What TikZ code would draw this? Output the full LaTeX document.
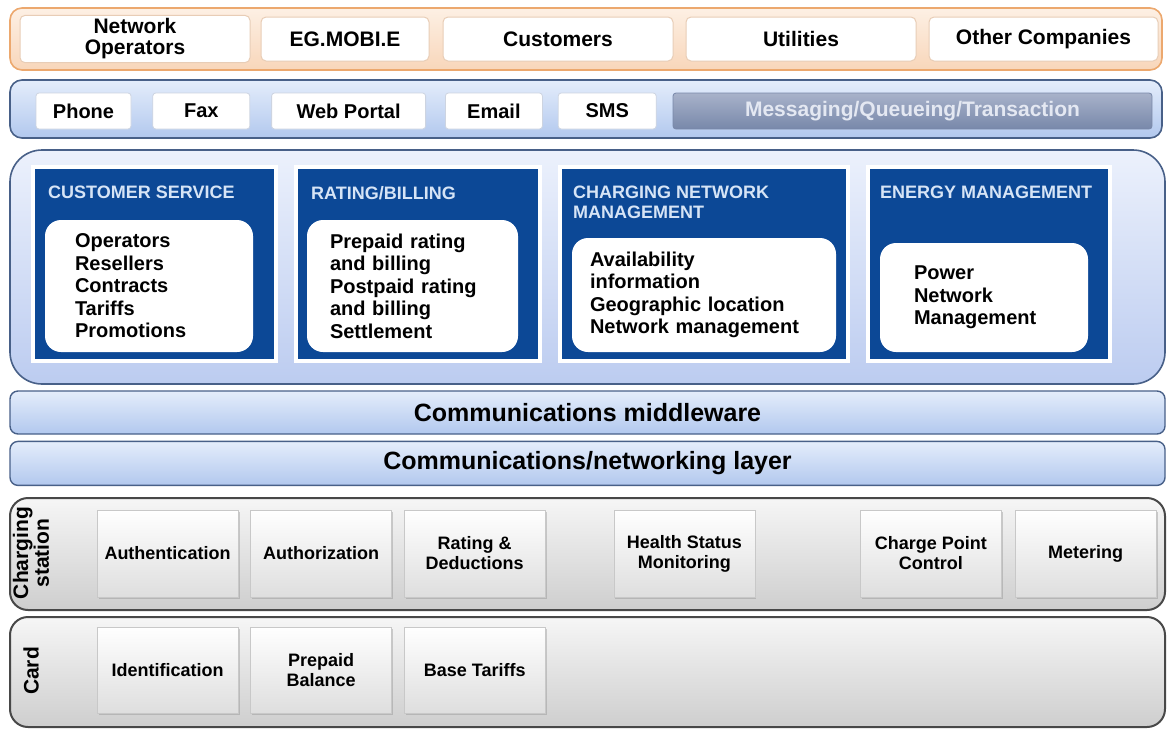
\documentclass[tikz,border=0pt]{standalone}
\usepackage{fontspec}
\setmainfont{Liberation Sans}
\usepackage{tikz}
\usetikzlibrary{positioning,shadows}
\definecolor{peachtop}{RGB}{253,240,228}
\definecolor{peachbottom}{RGB}{248,214,186}
\definecolor{peachedge}{RGB}{236,168,110}
\definecolor{tabedge}{RGB}{232,205,182}
\definecolor{bluetop}{RGB}{228,237,251}
\definecolor{bluebottom}{RGB}{178,200,238}
\definecolor{blueedge}{RGB}{72,96,136}
\definecolor{chanedge}{RGB}{205,212,225}
\definecolor{msgtop}{RGB}{168,178,202}
\definecolor{msgbottom}{RGB}{120,136,170}
\definecolor{msgtext}{RGB}{228,232,242}
\definecolor{midtop}{RGB}{236,241,252}
\definecolor{midbottom}{RGB}{188,204,240}
\definecolor{panelblue}{RGB}{12,72,150}
\definecolor{titleblue}{RGB}{214,228,246}
\definecolor{graytop}{RGB}{246,246,246}
\definecolor{graybottom}{RGB}{206,206,206}
\definecolor{grayedge}{RGB}{72,72,72}
\definecolor{unitedge}{RGB}{200,200,200}
\definecolor{unitbottom}{RGB}{222,222,222}
\tikzset{
  layer/.style={rectangle,rounded corners=12pt,line width=1.6pt,minimum width=1152pt},
  tabbox/.style={rectangle,rounded corners=5pt,draw=tabedge,fill=white,line width=1pt,align=center,minimum height=44pt,font=\bfseries\fontsize{21}{21}\selectfont},
  chanbox/.style={rectangle,rounded corners=3pt,draw=chanedge,fill=white,line width=0.8pt,minimum height=36pt,font=\bfseries\fontsize{20}{20}\selectfont},
  panel/.style={rectangle,draw=white,line width=4pt,fill=panelblue,minimum height=194pt},
  paneltitle/.style={inner sep=0pt,align=left,text=titleblue,font=\bfseries\fontsize{18}{20}\selectfont},
  listbox/.style={rectangle,rounded corners=16pt,fill=white,align=left,font=\bfseries\fontsize{20}{22.5}\selectfont},
  barbox/.style={rectangle,rounded corners=8pt,draw=blueedge,line width=1.4pt,top color=bluetop,bottom color=bluebottom,minimum width=1155pt,font=\bfseries\fontsize{25}{26}\selectfont},
  grayband/.style={rectangle,rounded corners=18pt,draw=grayedge,line width=2pt,top color=graytop,bottom color=graybottom,minimum width=1155pt},
  unitbox/.style={rectangle,draw=unitedge,line width=0.6pt,top color=white,bottom color=unitbottom,minimum width=141pt,align=center,drop shadow={shadow xshift=1.5pt,shadow yshift=-2pt,opacity=0.35},font=\bfseries\fontsize{18}{20}\selectfont},
  sidelabel/.style={rotate=90,align=center,font=\bfseries\fontsize{21}{17}\selectfont}
}

\begin{document}
\begin{tikzpicture}[x=1pt,y=-1pt]
  \useasboundingbox (0,0) rectangle (1169,729);
  % stakeholders
  \node[layer,draw=peachedge,top color=peachtop,bottom color=peachbottom,minimum height=62pt] (actors) at (586,39) {};
  \node[tabbox,minimum width=230pt] (netop) at (135,39) {Network\\Operators};
  \node[tabbox,minimum width=168pt,right=10pt of netop] (egmobie) {EG.MOBI.E};
  \node[tabbox,minimum width=230pt,right=13pt of egmobie] (cust) {Customers};
  \node[tabbox,minimum width=230pt,right=12pt of cust] (util) {Utilities};
  \node[tabbox,minimum width=229pt,right=12pt of util] (other) {Other Companies};
  % access channels
  \node[layer,draw=blueedge,top color=bluetop,bottom color=bluebottom,minimum height=58pt] (access) at (586,109) {};
  \node[chanbox,minimum width=95pt] (phone) at (83.5,111) {Phone};
  \node[chanbox,minimum width=97pt,right=21pt of phone] (fax) {Fax};
  \node[chanbox,minimum width=154pt,right=21pt of fax] (web) {Web Portal};
  \node[chanbox,minimum width=97pt,right=19pt of web] (email) {Email};
  \node[chanbox,minimum width=98pt,right=15pt of email] (sms) {SMS};
  \node[chanbox,draw=msgbottom,top color=msgtop,bottom color=msgbottom,text=msgtext,font=\bfseries\fontsize{21}{21}\selectfont,minimum width=479pt,right=16pt of sms] (msg) {Messaging/Queueing/Transaction};
  % back office
  \node[layer,rounded corners=32pt,draw=blueedge,top color=midtop,bottom color=midbottom,minimum width=1155pt,minimum height=234pt] (office) at (587.5,267) {};
  \node[panel,minimum width=243pt] (care) at (154.5,264) {};
  \node[panel,minimum width=244pt,right=16pt of care] (billing) {};
  \node[panel,minimum width=288pt,right=16pt of billing] (netmgmt) {};
  \node[panel,minimum width=242pt,right=16pt of netmgmt] (energy) {};
  \node[paneltitle,below right=21pt and 17pt of care.north west] (caret) {CUSTOMER SERVICE};
  \node[paneltitle,below right=21pt and 17pt of billing.north west] (billingt) {RATING/BILLING};
  \node[paneltitle,below right=21pt and 15pt of netmgmt.north west] (netmgmtt) {CHARGING NETWORK\\MANAGEMENT};
  \node[paneltitle,below right=21pt and 14pt of energy.north west] (energyt) {ENERGY MANAGEMENT};
  \node[listbox,minimum height=132pt,text width=148pt,inner xsep=30pt] (carel) at (149,286) {Operators\\Resellers\\Contracts\\Tariffs\\Promotions};
  \node[listbox,minimum height=132pt,text width=165pt,inner xsep=23pt] (billingl) at (412.5,286) {Prepaid rating\\and billing\\Postpaid rating\\and billing\\Settlement};
  \node[listbox,minimum height=114pt,text width=228pt,inner xsep=18pt] (netmgmtl) at (704,295) {Availability\\information\\Geographic location\\Network management};
  \node[listbox,minimum height=109pt,text width=140pt,inner xsep=34pt] (energyl) at (984,297.5) {Power\\Network\\Management};
  % communication layers
  \node[barbox,minimum height=43pt] (mw) at (587.5,412.5) {Communications middleware};
  \node[barbox,minimum height=44pt,below=6pt of mw] (net) {Communications/networking layer};
  % charging station
  \node[grayband,minimum height=112pt] (station) at (587.5,554) {};
  \node[sidelabel] (stationl) at (31,553) {Charging\\station};
  \node[unitbox,minimum height=87pt] (auth) at (167.5,553.5) {Authentication};
  \node[unitbox,minimum height=87pt,right=12pt of auth] (authz) {Authorization};
  \node[unitbox,minimum height=87pt,right=12pt of authz] (rate) {Rating \&\\Deductions};
  \node[unitbox,minimum height=87pt,right=68pt of rate] (health) {Health Status\\Monitoring};
  \node[unitbox,minimum height=87pt,right=105pt of health] (cpc) {Charge Point\\Control};
  \node[unitbox,minimum height=87pt,right=13pt of cpc] (meter) {Metering};
  % card
  \node[grayband,minimum height=110pt] (card) at (587.5,672) {};
  \node[sidelabel] (cardl) at (31,671) {Card};
  \node[unitbox,minimum height=86pt] (ident) at (167.5,670) {Identification};
  \node[unitbox,minimum height=86pt,right=12pt of ident] (prepaid) {Prepaid\\Balance};
  \node[unitbox,minimum height=86pt,right=12pt of prepaid] (tariffs) {Base Tariffs};
\end{tikzpicture}
\end{document}
